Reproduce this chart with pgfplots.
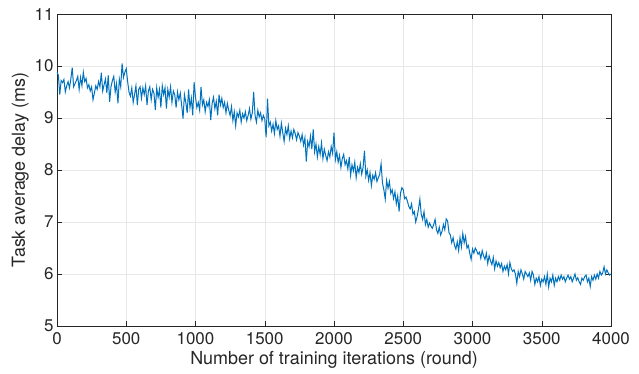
\documentclass[border=0pt]{standalone}
\usepackage{pgfplots}
\usepackage{pgfplotstable}
\pgfplotsset{compat=1.18}
\usepackage{fontspec}
\setmainfont{TeX Gyre Heros}
\definecolor{mblue}{rgb}{0,0.447,0.741}
\definecolor{maxis}{rgb}{0.15,0.15,0.15}
\pgfplotstableread{
y
9.88
9.82
9.45
9.72
9.68
9.74
9.50
9.62
9.70
9.58
9.75
9.97
9.60
9.66
9.72
9.80
9.55
9.78
9.62
9.88
9.70
9.76
9.58
9.64
9.52
9.60
9.35
9.48
9.62
9.55
9.70
9.60
9.87
9.52
9.64
9.75
9.48
9.82
9.31
9.60
9.72
9.80
9.50
9.66
9.28
9.75
9.60
10.05
9.78
9.88
9.95
9.70
9.50
9.42
9.58
9.30
9.45
9.62
9.25
9.55
9.60
9.38
9.58
9.45
9.62
9.25
9.52
9.60
9.35
9.55
9.48
9.15
9.58
9.40
9.55
9.20
9.62
9.45
9.58
9.18
9.55
9.40
9.60
9.30
9.52
9.45
9.20
9.50
9.35
9.48
9.25
8.99
9.45
9.30
9.10
9.55
9.20
9.38
9.05
9.69
9.40
9.20
9.30
9.15
9.60
9.25
9.35
9.12
9.30
9.22
9.35
8.96
9.28
9.40
9.18
9.32
9.05
9.45
9.25
9.38
9.20
9.30
9.10
9.28
9.15
9.05
9.22
8.95
9.12
8.85
9.10
9.02
9.15
8.92
9.08
9.00
9.12
8.95
9.05
9.18
8.98
9.10
9.50
9.05
8.92
9.15
9.02
9.10
8.95
9.05
8.98
8.63
9.37
8.85
8.92
8.75
8.88
8.70
8.95
8.78
8.85
8.65
8.90
8.72
8.55
8.80
8.68
8.85
8.60
8.75
8.62
8.78
8.70
8.58
8.72
8.65
8.55
8.68
8.48
8.62
8.16
8.55
8.45
8.65
8.40
8.78
8.35
8.50
8.25
8.45
8.30
8.52
8.22
8.40
8.28
8.18
8.35
8.25
8.45
8.32
8.72
8.20
8.35
8.15
8.28
8.05
8.22
8.30
8.10
8.18
8.02
8.25
7.90
8.10
7.98
8.15
7.85
8.05
7.95
8.12
7.92
8.05
8.37
7.88
8.00
7.80
7.95
7.70
7.90
7.82
7.95
7.78
7.85
7.92
8.12
7.75
7.62
7.44
7.80
7.65
7.78
7.55
7.62
7.45
7.58
7.35
7.50
7.20
7.55
7.66
7.62
7.45
7.48
7.40
7.30
7.25
7.35
7.15
7.20
7.00
7.10
7.25
7.44
7.15
7.05
7.20
6.95
7.05
6.90
6.98
6.92
6.88
6.95
7.05
6.85
6.78
6.90
6.75
6.82
6.95
6.85
7.06
7.02
6.80
6.75
6.60
6.70
6.55
6.48
6.62
6.45
6.70
6.52
6.78
6.60
6.72
6.50
6.55
6.40
6.28
6.48
6.40
6.50
6.45
6.38
6.42
6.30
6.45
6.35
6.28
6.40
6.20
6.35
6.25
6.18
6.32
6.10
6.25
6.15
6.22
6.12
6.20
6.05
6.15
6.08
6.18
6.00
6.22
6.10
6.05
6.08
6.00
5.82
6.05
5.95
6.08
6.00
5.90
6.05
6.00
5.95
6.02
5.88
6.05
5.98
5.80
5.92
5.85
5.95
5.78
5.90
5.85
5.95
5.80
6.00
5.75
5.92
5.85
5.98
5.78
5.92
5.85
5.95
5.88
5.98
5.90
5.95
5.85
5.92
5.98
5.90
5.95
5.85
5.92
6.00
5.88
5.93
5.85
5.80
5.92
5.88
5.95
5.98
5.85
5.92
5.76
5.95
5.88
5.98
5.90
6.00
5.92
6.05
5.98
6.02
6.14
6.00
6.08
6.02
5.98
6.00
}\delay
\begin{document}
\begin{tikzpicture}
\begin{axis}[
  name=ax,
  scale only axis,
  width=554bp, height=312bp,
  xmin=0, xmax=4000, ymin=5, ymax=11,
  xtick={0,500,...,4000}, ytick={5,6,...,11},
  tick align=inside,
  major tick length=5bp,
  grid=major,
  grid style={draw=black!9, line width=0.5pt},
  axis line style={draw=maxis, line width=0.5pt},
  tick style={draw=maxis, line width=0.5pt},
  every tick label/.append style={font=\fontsize{17}{20}\selectfont, text=maxis},
  /pgf/number format/assume math mode=true,
  /pgf/number format/1000 sep={},
  xticklabel style={yshift=-3bp},
  yticklabel style={xshift=0bp},
  label style={font=\fontsize{18}{21}\selectfont, text=maxis},
  xlabel={Number of training iterations (round)},
  ylabel={Task average delay (ms)},
  xlabel style={yshift=0bp},
  ylabel style={yshift=-1bp},
]
\addplot[mblue, line width=1pt, no marks] table[x expr=\coordindex*10, y=y] {\delay};
\end{axis}
\pgfresetboundingbox
\path (ax.south west) ++(-57bp,-48bp) coordinate (bl);
\path (ax.north east) ++(28bp,14bp) coordinate (tr);
\useasboundingbox (bl) rectangle (tr);
\end{tikzpicture}
\end{document}
